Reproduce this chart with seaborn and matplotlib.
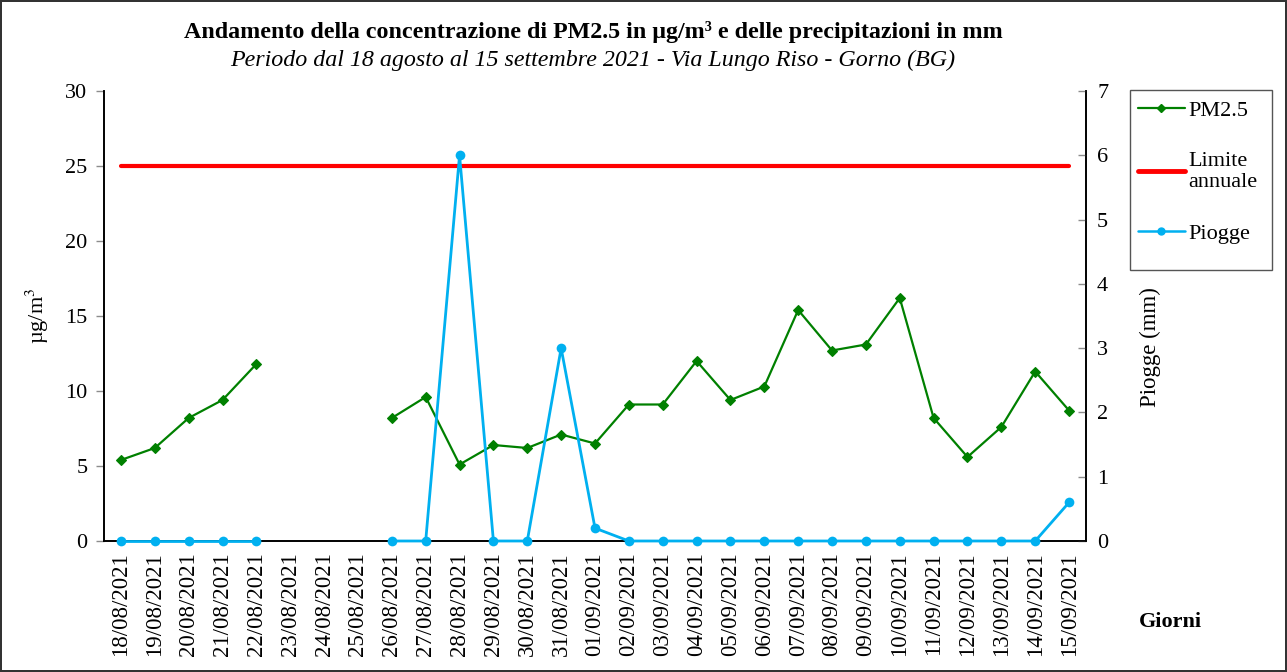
import numpy as np
import pandas as pd
import matplotlib
matplotlib.use("Agg")
import matplotlib.pyplot as plt
import seaborn as sns

# data
giorni = ["18/08/2021", "19/08/2021", "20/08/2021", "21/08/2021", "22/08/2021",
          "23/08/2021", "24/08/2021", "25/08/2021", "26/08/2021", "27/08/2021",
          "28/08/2021", "29/08/2021", "30/08/2021", "31/08/2021", "01/09/2021",
          "02/09/2021", "03/09/2021", "04/09/2021", "05/09/2021", "06/09/2021",
          "07/09/2021", "08/09/2021", "09/09/2021", "10/09/2021", "11/09/2021",
          "12/09/2021", "13/09/2021", "14/09/2021", "15/09/2021"]
pm25 = [5.4, 6.2, 8.2, 9.4, 11.8, np.nan, np.nan, np.nan, 8.2, 9.6,
        5.1, 6.4, 6.2, 7.1, 6.5, 9.1, 9.1, 12.0, 9.4, 10.3,
        15.4, 12.7, 13.1, 16.2, 8.2, 5.6, 7.6, 11.3, 8.7]
piogge = [0, 0, 0, 0, 0, np.nan, np.nan, np.nan, 0, 0,
          6.0, 0, 0, 3.0, 0.2, 0, 0, 0, 0, 0,
          0, 0, 0, 0, 0, 0, 0, 0, 0.6]
limite = [25] * len(giorni)

df = pd.DataFrame({"giorno": giorni, "pm25": pm25, "piogge": piogge, "limite": limite})
df["pos"] = np.arange(len(df))
# segment ids so seaborn keeps the gap of missing days
df["seg"] = df["pm25"].isna().cumsum()

sns.set_theme(style="white")
plt.rcParams["font.family"] = ["Liberation Serif", "DejaVu Serif"]
plt.rcParams["mathtext.fontset"] = "stix"
plt.rcParams["text.color"] = "black"
plt.rcParams["axes.labelcolor"] = "black"
plt.rcParams["xtick.color"] = "black"
plt.rcParams["ytick.color"] = "black"

GREEN = "#008000"
RED = "#ff0000"
BLUE = "#00b0f0"
TICK = "#8c8c8c"
FS = 16

fig = plt.figure(figsize=(12.87, 6.72), dpi=100)
fig.patch.set_facecolor("white")
fig.patch.set_edgecolor("#333333")
fig.patch.set_linewidth(1.5)

ax = fig.add_axes([104 / 1287, 1 - 541 / 672, 982 / 1287, 450 / 672])
ax2 = ax.twinx()

valid = df.dropna(subset=["pm25"])
sns.lineplot(data=valid, x="pos", y="pm25", units="seg", estimator=None, ax=ax,
             color=GREEN, lw=1.6, marker="D", markersize=5, markeredgewidth=0.8,
             markeredgecolor=GREEN, legend=False)
sns.lineplot(data=df, x="pos", y="limite", ax=ax, color=RED, lw=3, legend=False)

valid2 = df.dropna(subset=["piogge"])
sns.lineplot(data=valid2, x="pos", y="piogge", units="seg", estimator=None, ax=ax2,
             color=BLUE, lw=2, marker="o", markersize=7, markeredgewidth=0,
             legend=False)
for ln in ax2.lines:
    ln.set_clip_on(False)
    ln.set_zorder(5)

ax.set_xlim(-0.5, len(giorni) - 0.5)
ax.set_ylim(0, 30)
ax.set_yticks(np.arange(0, 31, 5))
ax2.set_ylim(0, 7)
ax2.set_yticks(np.arange(0, 8, 1))

ax.set_xticks(df["pos"])
ax.set_xticklabels(giorni, rotation=90, fontsize=16.5)
ax.set_xticks(np.arange(-0.5, len(giorni), 1), minor=True)
ax.tick_params(axis="x", which="major", length=0, pad=8)
ax.tick_params(axis="x", which="minor", direction="inout", length=12, width=1, color=TICK)
ax.tick_params(axis="y", direction="out", length=6, width=1, color=TICK, labelsize=FS, left=True, pad=6)
ax2.tick_params(axis="y", direction="in", length=6, width=1, color=TICK, labelsize=FS, right=True, pad=8)

for a in (ax, ax2):
    for s in a.spines.values():
        s.set_color("black")
        s.set_linewidth(1.2)
    a.spines["top"].set_visible(False)
    a.grid(False)

ax.set_xlabel("")
ax.set_ylabel("µg/m$^3$", fontsize=FS, labelpad=10)
ax2.set_ylabel("Piogge (mm)", fontsize=16.5)
ax2.yaxis.set_label_coords(1.055, 0.43)

fig.text(593 / 1287, 1 - 32 / 672, "Andamento della concentrazione di PM2.5 in µg/m³ e delle precipitazioni in mm",
         ha="center", va="center", fontsize=17.3, fontweight="bold")
fig.text(593 / 1287, 1 - 60 / 672, "Periodo dal 18 agosto al 15 settembre 2021 - Via Lungo Riso - Gorno (BG)",
         ha="center", va="center", fontsize=17.3, style="italic")
fig.text(1170 / 1287, 1 - 622 / 672, "Giorni", ha="center", va="center", fontsize=FS, fontweight="bold")

h1 = plt.Line2D([], [], color=GREEN, lw=1.6, marker="D", markersize=4)
h2 = plt.Line2D([], [], color=RED, lw=3.5)
h3 = plt.Line2D([], [], color=BLUE, lw=1.8, marker="o", markersize=5)
leg = fig.legend([h1, h2, h3], ["PM2.5", "Limite\nannuale", "Piogge"],
                 loc="upper left", bbox_to_anchor=(1138 / 1287, 1 - 100 / 672),
                 fontsize=FS, frameon=False,
                 handlelength=2.1, handletextpad=0.15, labelspacing=1.4,
                 borderpad=0, borderaxespad=0)
# legend frame drawn as its own box, taller than the entries like the original
fig.patches.append(plt.Rectangle((1130 / 1287, 1 - 270 / 672), 142 / 1287, 180 / 672,
                                 transform=fig.transFigure, fill=False,
                                 edgecolor="#555555", lw=1))

fig.savefig("out.png", dpi=100)
